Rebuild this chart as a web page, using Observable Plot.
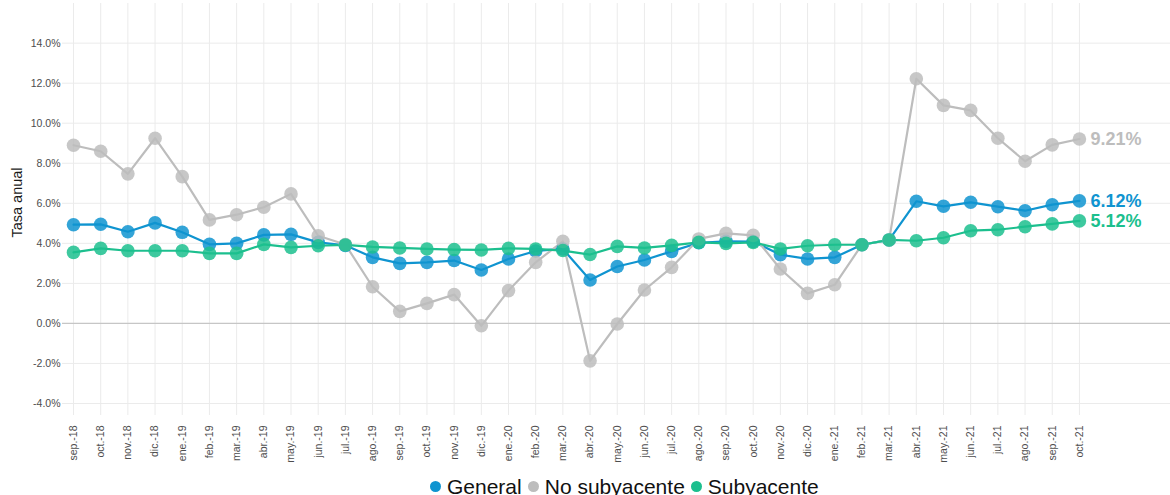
<!DOCTYPE html>
<html>
<head>
<meta charset="utf-8">
<script src="https://cdn.jsdelivr.net/npm/d3@7"></script>
<script src="https://cdn.jsdelivr.net/npm/@observablehq/plot@0.6"></script>
<style>
  html, body { margin: 0; padding: 0; background: #fff; overflow: hidden; }
  #legend { display: flex; align-items: center; margin-left: 430px; margin-top: 6px;
    font-family: "Liberation Sans", Arial, sans-serif; font-size: 21px; line-height: 21px; color: #111; white-space: nowrap; }
  #legend .dot { width: 11px; height: 11px; border-radius: 50%; display: inline-block; margin-right: 6px; }
  #legend .item { display: flex; align-items: center; margin-right: 6px; }
</style>
</head>
<body>
<div id="chart"></div>
<div id="legend"></div>
<script>
const months = ["sep.-18","oct.-18","nov.-18","dic.-18","ene.-19","feb.-19","mar.-19","abr.-19","may.-19","jun.-19","jul.-19","ago.-19","sep.-19","oct.-19","nov.-19","dic.-19","ene.-20","feb.-20","mar.-20","abr.-20","may.-20","jun.-20","jul.-20","ago.-20","sep.-20","oct.-20","nov.-20","dic.-20","ene.-21","feb.-21","mar.-21","abr.-21","may.-21","jun.-21","jul.-21","ago.-21","sep.-21","oct.-21"];

const general = [4.93,4.95,4.58,5.02,4.55,3.95,4.00,4.42,4.45,4.05,3.90,3.30,3.00,3.05,3.14,2.67,3.22,3.62,3.72,2.17,2.84,3.17,3.60,4.03,4.10,4.09,3.43,3.22,3.30,3.93,4.17,6.10,5.85,6.05,5.83,5.63,5.93,6.12];
const noSubyacente = [8.90,8.60,7.47,9.25,7.33,5.17,5.43,5.80,6.47,4.38,3.94,1.83,0.60,1.00,1.44,-0.12,1.64,3.05,4.10,-1.87,-0.03,1.67,2.80,4.22,4.50,4.40,2.72,1.50,1.93,3.93,4.17,12.22,10.89,10.64,9.25,8.10,8.92,9.21];
const subyacente = [3.55,3.75,3.63,3.63,3.63,3.50,3.50,3.95,3.80,3.88,3.92,3.82,3.77,3.72,3.69,3.67,3.75,3.72,3.64,3.44,3.85,3.77,3.90,4.05,4.00,4.05,3.72,3.88,3.93,3.93,4.17,4.13,4.28,4.63,4.68,4.83,4.97,5.12];

const seriesNames = ["General","No subyacente","Subyacente"];
const seriesColors = ["#0f94d0","#bdbdbd","#1cbf8e"];
const yTicks = [-4,-2,0,2,4,6,8,10,12,14];

const seriesValues = [general, noSubyacente, subyacente];
const data = [];
seriesNames.forEach((s, k) => seriesValues[k].forEach((v, i) => data.push({s, i, v})));
const last = seriesNames.map((s, k) => ({s, i: months.length - 1, v: seriesValues[k][months.length - 1]}));
const idx = d3.range(months.length);

const chart = Plot.plot({
  width: 1170,
  height: 470,
  marginLeft: 62,
  marginRight: 0,
  marginTop: 3,
  marginBottom: 55,
  style: {fontFamily: "'Liberation Sans', Arial, sans-serif", background: "white", overflow: "visible"},
  x: {type: "linear", domain: [-0.405, 40.35]},
  y: {domain: [-4.6, 15.98]},
  color: {domain: seriesNames, range: seriesColors},
  marks: [
    Plot.gridY(yTicks, {stroke: "#ebebeb", strokeOpacity: 1}),
    Plot.gridX(idx, {stroke: "#ebebeb", strokeOpacity: 1}),
    Plot.ruleY([0], {stroke: "#c6c6c6", strokeWidth: 1.2}),
    Plot.axisY(yTicks, {tickSize: 0, tickPadding: 2, tickFormat: d => d.toFixed(1) + "%", fontSize: 10.5, fill: "#4d4d4d", label: null}),
    Plot.axisX(idx, {tickSize: 0, tickPadding: 10, tickRotate: -90, tickFormat: i => months[i], fontSize: 10.5, fill: "#4d4d4d", label: null}),
    Plot.line(data, {x: "i", y: "v", z: "s", stroke: "s", strokeWidth: 2.2}),
    Plot.dot(data, {x: "i", y: "v", fill: "s", r: 6.8, fillOpacity: 0.85}),
    Plot.text(last, {x: "i", y: "v", text: d => d.v.toFixed(2) + "%", fill: "s", dx: 11, textAnchor: "start", fontWeight: "bold", fontSize: 18}),
    Plot.text(["Tasa anual"], {frameAnchor: "left", textAnchor: "middle", rotate: -90, dx: -45, dy: -7, fontSize: 14.5, fill: "#1a1a1a"})
  ]
});
document.getElementById("chart").appendChild(chart);

const legend = document.getElementById("legend");
seriesNames.forEach((s, k) => {
  const item = document.createElement("span");
  item.className = "item";
  const dot = document.createElement("span");
  dot.className = "dot";
  dot.style.background = seriesColors[k];
  item.appendChild(dot);
  item.appendChild(document.createTextNode(s));
  legend.appendChild(item);
});
</script>
</body>
</html>
